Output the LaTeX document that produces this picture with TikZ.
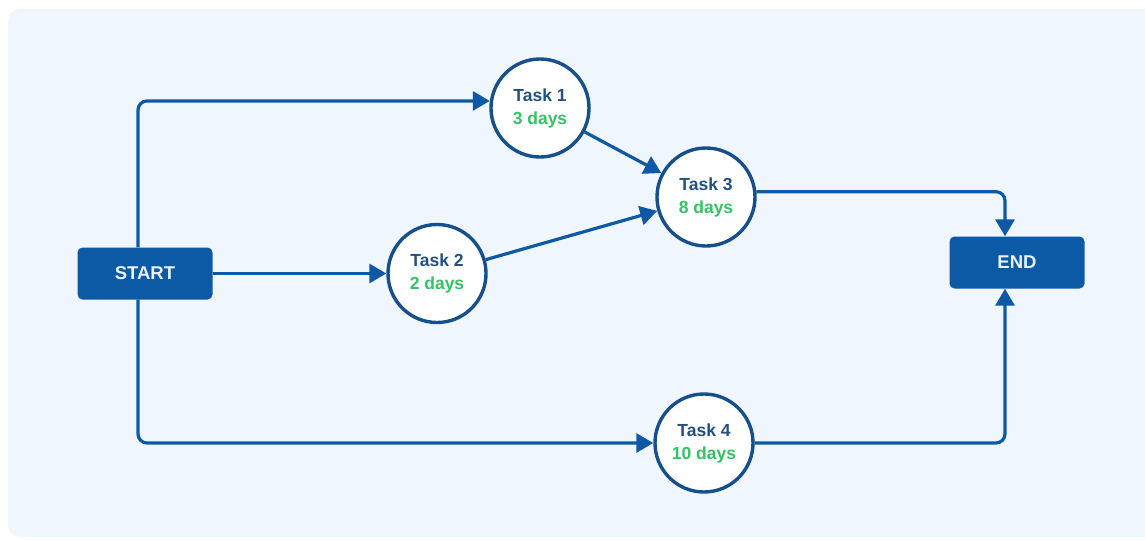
\documentclass[tikz,border=0pt]{standalone}
\usepackage{fontspec}
\setmainfont{Liberation Sans}
\usetikzlibrary{arrows.meta}

\definecolor{panel}{HTML}{F0F6FE}
\definecolor{boxblue}{HTML}{0C5AA6}
\definecolor{linkblue}{HTML}{0D59A5}
\definecolor{ringblue}{HTML}{174F8C}
\definecolor{taskink}{HTML}{24507F}
\definecolor{daysgreen}{HTML}{35C266}
\definecolor{labelink}{HTML}{EAF2FB}

\tikzset{
  terminal/.style={draw=none, fill=boxblue, rounded corners=5pt,
    minimum width=135pt, minimum height=52pt, inner sep=0pt,
    text=labelink, font=\bfseries\fontsize{18.5}{20}\selectfont},
  taskcircle/.style={circle, draw=ringblue, line width=3.4pt, fill=white,
    minimum size=98pt, inner sep=0pt, align=center,
    font=\bfseries\fontsize{17.5}{23}\selectfont},
  link/.style={draw=linkblue, line width=3.2pt, rounded corners=9pt,
    -{Triangle[length=17pt,width=19pt]}},
}

\begin{document}
\begin{tikzpicture}[x=1pt,y=-1pt]
  \useasboundingbox (0,0) rectangle (1145,539);
  % light panel behind the network
  \begin{scope}
    \clip (0,0) rectangle (1145,539);
    \fill[panel, rounded corners=12pt] (8,9) rectangle (1170,537);
  \end{scope}

  % start and end boxes
  \node[terminal] (start) at (145,273.5) {START};
  \node[terminal] (end) at (1017,262.5) {END};

  % tasks
  \node[taskcircle] (t1) at (540,108)
    {\textcolor{taskink}{Task 1}\\\textcolor{daysgreen}{3 days}};
  \node[taskcircle] (t2) at (437,273.5)
    {\textcolor{taskink}{Task 2}\\\textcolor{daysgreen}{2 days}};
  \node[taskcircle] (t3) at (706,197)
    {\textcolor{taskink}{Task 3}\\\textcolor{daysgreen}{8 days}};
  \node[taskcircle] (t4) at (704,443)
    {\textcolor{taskink}{Task 4}\\\textcolor{daysgreen}{10 days}};

  % branch points on the boxes
  \coordinate (sTop) at ([xshift=-7pt]start.north);
  \coordinate (sBot) at ([xshift=-7pt]start.south);
  \coordinate (eTop) at ([xshift=-12pt]end.north);
  \coordinate (eBot) at ([xshift=-12pt]end.south);

  % connectors
  \draw[link] (sTop) |- (t1.172);
  \draw[link] (start.east) -- (t2.west);
  \draw[link] (sBot) |- (t4.west);
  \draw[link] (t1) -- (t3);
  \draw[link] (t2) -- (t3);
  \draw[link] (t3.6) -| (eTop);
  \draw[link] (t4.east) -| (eBot);
\end{tikzpicture}
\end{document}
